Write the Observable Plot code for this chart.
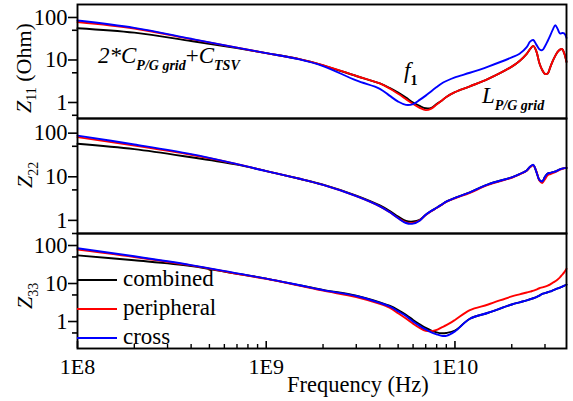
<!DOCTYPE html>
<html><head><meta charset="utf-8">
<script src="https://cdn.jsdelivr.net/npm/d3@7"></script>
<script src="https://cdn.jsdelivr.net/npm/@observablehq/plot@0.6"></script>
<style>
body{margin:0;background:#fff;}
#wrap{position:relative;width:573px;height:401px;font-family:"Liberation Serif","Times New Roman","DejaVu Serif",serif;overflow:hidden;}
#wrap .pnl{position:absolute;left:0;}
#wrap text{font-family:"Liberation Serif","Times New Roman","DejaVu Serif",serif;}
#overlay{position:absolute;left:0;top:0;pointer-events:none;}
</style></head><body><div id="wrap"></div>
<script>
const seriesNames = ["combined", "peripheral", "cross"];
const seriesColors = ["#000000", "#ff0000", "#0000ff"];
const xMajor = [1e8, 1e9, 1e10];
const xTickLabels = ["1E8", "1E9", "1E10"];
const xMinor = [2e8,3e8,4e8,5e8,6e8,7e8,8e8,9e8,2e9,3e9,4e9,5e9,6e9,7e9,8e9,9e9,2e10,3e10];
const yMajor = [1, 10, 100];
const yMinor = [0.5, 5, 50];

const freq = [1e8,2e8,4e8,7e8,1e9,1.5e9,2e9,3e9,4e9,4.5e9,5e9,5.5e9,6e9,6.5e9,7e9,7.5e9,8e9,8.5e9,9e9,1e10,
  1.2e10,1.5e10,2e10,2.2e10,2.4e10,2.5e10,2.6e10,2.7e10,2.8e10,2.9e10,3.0e10,3.1e10,3.2e10,3.3e10,3.4e10,3.5e10,3.6e10,3.7e10,3.8e10,3.9e10];

const z11Combined = [56,44,28,19,14.5,10.5,7.5,4.2,2.8,2.2,1.7,1.3,1.0,0.83,0.73,0.75,0.92,1.1,1.35,1.75,
  2.4,3.6,7.0,9.5,14,18,21.5,16,8.5,5.8,4.7,4.8,6.8,9.5,12.5,15.5,17.5,18,14,9];
const z11Peripheral = [78,55,31,19.5,14.5,10.5,7.6,4.2,2.8,2.15,1.6,1.2,0.92,0.75,0.66,0.72,0.9,1.1,1.35,1.75,
  2.4,3.6,7.0,9.5,14,18,21.5,16,8.5,5.8,4.7,4.8,6.8,9.5,12.5,15.5,17.5,18,14,9];
const z11Cross = [85,57,31.5,19.5,14.5,10.3,7.2,3.3,2.1,1.45,1.05,0.88,0.92,1.15,1.45,1.85,2.3,2.8,3.2,3.9,
  5.0,7.0,11.5,14,20,27,29.5,23,18,17,21,28,38,52,66,54,42,43,42,33];

const z22Combined = [57,43,28,19,13.5,9.0,6.6,3.7,2.2,1.65,1.22,0.97,0.94,1.03,1.35,1.65,1.95,2.3,2.7,3.3,
  4.4,6.7,9.7,11.5,14,17,18.5,13,8.5,7.8,10,11.8,12.3,12.8,13.2,14,14.8,15.4,15.8,16];
const z22Peripheral = [81,52,32,19.5,13.5,9.0,6.5,3.6,2.1,1.55,1.13,0.9,0.87,1.0,1.33,1.62,1.92,2.27,2.65,3.2,
  4.3,6.5,9.5,11.3,13.8,16.5,18.3,13.5,8.2,7.2,8.8,10.8,11.5,12.2,12.8,13.6,14.5,15.2,15.7,16];
const z22Cross = [88,55,33,19.5,13.5,9.0,6.5,3.6,2.1,1.55,1.12,0.87,0.84,0.98,1.35,1.65,1.95,2.3,2.7,3.3,
  4.4,6.7,9.7,11.5,14,17,18.8,13,8.5,7.8,10,11.8,12.3,12.8,13.2,14,14.8,15.4,15.8,16];

const z33Combined = [55,41,29,18,13.5,9.0,6.8,4.8,3.2,2.6,2.0,1.5,1.1,0.85,0.68,0.58,0.52,0.49,0.5,0.58,
  1.18,1.7,2.8,3.2,3.6,3.85,4.1,4.4,4.8,5.3,5.6,5.9,6.2,6.6,7.0,7.4,7.8,8.3,8.8,9.3];
const z33Peripheral = [78,50,30,18,13.3,8.8,6.5,4.4,2.9,2.3,1.65,1.2,0.88,0.68,0.57,0.56,0.6,0.7,0.8,1.1,
  2.0,2.8,4.6,5.2,5.8,6.1,6.5,6.9,7.5,7.9,8.3,8.8,9.5,10.5,11.5,12.8,14.5,17,20,24.5];
const z33Cross = [85,52,30.5,18.5,13.5,9.0,6.7,4.7,3.1,2.5,1.85,1.4,1.0,0.77,0.62,0.52,0.46,0.42,0.42,0.55,
  1.18,1.7,2.8,3.2,3.6,3.85,4.1,4.4,4.8,5.3,5.6,5.9,6.2,6.6,7.0,7.4,7.8,8.3,8.8,9.3];

const panels = [
  {values: [z11Combined, z11Peripheral, z11Cross], top: 0, height: 120, mt: 4, mb: 2, domain: [0.42, 202], bottom: false},
  {values: [z22Combined, z22Peripheral, z22Cross], top: 116, height: 119, mt: 2, mb: 2, domain: [0.5, 217], bottom: false},
  {values: [z33Combined, z33Peripheral, z33Cross], top: 231, height: 170, mt: 2, mb: 53, domain: [0.195, 207], bottom: true}
];

const wrap = document.getElementById("wrap");
const font = '"Liberation Serif", "Times New Roman", "DejaVu Serif", serif';

panels.forEach(p => {
  const rows = seriesNames.flatMap((s, k) => freq.map((f, i) => ({f, z: p.values[k][i], s})));
  const frameH = p.height - p.mt - p.mb;
  const marks = [
    Plot.line(rows, {x: "f", y: "z", z: "s", stroke: "s", strokeWidth: 1.9, curve: "catmull-rom"}),
    Plot.axisY(yMajor, {tickSize: 9, tickPadding: 1, tickFormat: d => String(d), label: null, strokeWidth: 1.6, fontSize: 22.5}),
    Plot.axisY(yMinor, {tickSize: 5, tickFormat: () => "", label: null, strokeWidth: 1.6}),
    Plot.frame({stroke: "#000", strokeWidth: 1.9})
  ];
  if (p.bottom) {
    marks.push(Plot.ruleX(xMajor, {insetTop: frameH - 7, stroke: "#000", strokeWidth: 1.6}));
    marks.push(Plot.ruleX(xMinor, {insetTop: frameH - 4, stroke: "#000", strokeWidth: 1.4}));
    marks.push(Plot.axisX(xMajor, {tickSize: 0, tickPadding: 10, tickFormat: d => xTickLabels[xMajor.indexOf(d)], label: null, fontSize: 22}));
  }
  const chart = Plot.plot({
    width: 573, height: p.height,
    marginLeft: 77, marginRight: 7, marginTop: p.mt, marginBottom: p.mb,
    x: {type: "log", domain: [1e8, 3.9e10], axis: null},
    y: {type: "log", domain: p.domain, axis: null},
    color: {domain: seriesNames, range: seriesColors},
    style: {fontFamily: font, fontSize: "22px", color: "#000", background: "transparent", overflow: "visible"},
    marks
  });
  chart.classList.add("pnl");
  chart.style.top = p.top + "px";
  wrap.appendChild(chart);
});

const ns = "http://www.w3.org/2000/svg";
const ov = document.createElementNS(ns, "svg");
ov.setAttribute("id", "overlay");
ov.setAttribute("width", 573); ov.setAttribute("height", 401);
ov.innerHTML = `
<text transform="translate(31,113) rotate(-90)" font-size="22"><tspan font-style="italic">Z</tspan><tspan font-size="14" dy="5">11</tspan><tspan dy="-5"> (Ohm)</tspan></text>
<text transform="translate(32,188) rotate(-90)" font-size="22"><tspan font-style="italic">Z</tspan><tspan font-size="14" dy="6">22</tspan></text>
<text transform="translate(32,309) rotate(-90)" font-size="22"><tspan font-style="italic">Z</tspan><tspan font-size="14" dy="6">33</tspan></text>
<text x="98" y="63" font-size="23" font-style="italic">2*C<tspan font-size="14" font-weight="bold" dy="7">P/G grid</tspan><tspan dy="-7" font-style="normal">+</tspan>C<tspan font-size="14" font-weight="bold" dy="7">TSV</tspan></text>
<text x="404" y="78" font-size="23" font-style="italic">f<tspan font-size="14" font-weight="bold" font-style="normal" dy="7">1</tspan></text>
<text x="482" y="103" font-size="23" font-style="italic">L<tspan font-size="14" font-weight="bold" dy="7">P/G grid</tspan></text>
<line x1="77" x2="117" y1="280" y2="280" stroke="${seriesColors[0]}" stroke-width="1.9"/>
<line x1="77" x2="117" y1="309" y2="309" stroke="${seriesColors[1]}" stroke-width="1.9"/>
<line x1="77" x2="117" y1="338" y2="338" stroke="${seriesColors[2]}" stroke-width="1.9"/>
<text x="123" y="286" font-size="23">${seriesNames[0]}</text>
<text x="123" y="315" font-size="23">${seriesNames[1]}</text>
<text x="123" y="344" font-size="23">${seriesNames[2]}</text>
<text x="287" y="392" font-size="22.5">Frequency (Hz)</text>
`;
wrap.appendChild(ov);
</script></body></html>
